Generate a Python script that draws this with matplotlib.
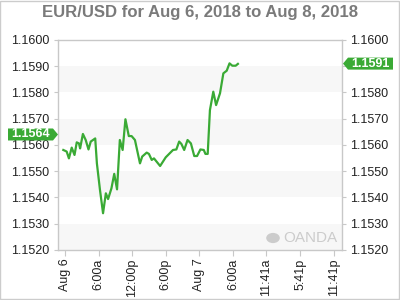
import matplotlib
matplotlib.use("Agg")
import matplotlib.pyplot as plt
from matplotlib.patches import Rectangle, Polygon

# ---- data ----
hours = [-0.3, 0.3, 0.7, 1.2, 1.7, 2.1, 2.5, 2.7, 3.2, 3.7, 4.2, 4.6, 5.4, 5.7,
         6.25, 6.8, 7.3, 7.7, 8.3, 8.8, 9.3, 9.8, 10.3, 10.8, 11.4, 11.9, 12.5,
         13.4, 13.8, 14.6, 15.0, 15.5, 15.9, 17.0, 18.0, 19.3, 19.9, 20.4, 20.8,
         21.3, 21.9, 22.5, 23.1, 23.6, 24.2, 24.8, 25.1, 25.5, 25.9, 26.5, 27.0,
         27.7, 28.3, 28.9, 29.4, 29.9, 30.5, 30.9]
prices = [1.15581, 1.15575, 1.15549, 1.15590, 1.15562, 1.15610, 1.15606, 1.15587,
          1.15642, 1.15619, 1.15583, 1.15613, 1.15625, 1.15530, 1.15429, 1.15340,
          1.15416, 1.15394, 1.15435, 1.15490, 1.15431, 1.15619, 1.15581, 1.15698,
          1.15634, 1.15634, 1.15619, 1.15530, 1.15556, 1.15571, 1.15566, 1.15543,
          1.15549, 1.15520, 1.15553, 1.15581, 1.15583, 1.15613, 1.15604, 1.15581,
          1.15619, 1.15606, 1.15558, 1.15558, 1.15583, 1.15581, 1.15566, 1.15566,
          1.15733, 1.15803, 1.15752, 1.15797, 1.15873, 1.15883, 1.15911, 1.15902,
          1.15902, 1.15909]
tick_hours = [0, 6, 12, 18, 24, 30, 36, 42, 48]
tick_labels = ["Aug 6", "6:00a", "12:00p", "6:00p", "Aug 7", "6:00a",
               "11:41a", "5:41p", "11:41p"]
y_ticks = [1.1520, 1.1530, 1.1540, 1.1550, 1.1560, 1.1570, 1.1580, 1.1590, 1.1600]
bands = [(1.1520, 1.1530), (1.1540, 1.1550), (1.1560, 1.1570), (1.1580, 1.1590)]
left_label = 1.1564
right_label = 1.1591
title = "EUR/USD for Aug 6, 2018 to Aug 8, 2018"

GREEN = "#3aaa35"
plt.rcParams['font.family'] = ['Liberation Sans', 'DejaVu Sans']

fig = plt.figure(figsize=(4, 3), dpi=100)
ax = fig.add_axes([0.145, 0.1667, 0.71, 0.70])
xmin, xmax = -1.25, 49.5
ymin, ymax = 1.1520, 1.1600
ax.set_xlim(xmin, xmax)
ax.set_ylim(ymin, ymax)

for lo, hi in bands:
    ax.axhspan(lo, hi, color="#f7f7f7", lw=0, zorder=0)

ax.plot(hours, prices, color=GREEN, lw=1.6, zorder=3)

for s in ax.spines.values():
    s.set_color("#c8c8c8")
    s.set_linewidth(1)

ax.set_yticks(y_ticks)
ax.set_yticklabels([f"{v:.4f}" for v in y_ticks])
ax.tick_params(axis='y', which='both', left=True, right=True, labelleft=True,
               labelright=True, length=3, color="#c8c8c8", labelsize=9,
               labelcolor="#222222", pad=3)
# the right-hand 1.1590 label sits under the last-price tag
for lab, v in zip(ax.yaxis.get_ticklabels(which='major'), y_ticks):
    pass
ax.set_xticks(tick_hours)
ax.set_xticklabels(tick_labels, rotation=90)
ax.tick_params(axis='x', length=4, color="#c8c8c8", labelsize=9,
               labelcolor="#222222", pad=2)
fig.canvas.draw()
for t in ax.yaxis.get_major_ticks():
    if abs(t.get_loc() - 1.1590) < 1e-7:
        t.label2.set_visible(False)

# title
fig.text(0.5, 0.96, title, ha='center', va='center', fontsize=12.1,
         fontweight='bold', color="#7a7a7a")

def to_fig(xd, yd):
    disp = ax.transData.transform((xd, yd))
    return fig.transFigure.inverted().transform(disp)

# left label
_, fyl = to_fig(xmin, left_label)
h = 12 / 300
x0, x1 = 8 / 400, 53 / 400
tip = 58 / 400
fig.patches.append(Polygon([[x0, fyl - h / 2], [x1, fyl - h / 2], [tip, fyl],
                            [x1, fyl + h / 2], [x0, fyl + h / 2]],
                           closed=True, transform=fig.transFigure,
                           facecolor=GREEN, edgecolor='none'))
fig.text((x0 + x1) / 2, fyl, f"{left_label:.4f}", ha='center', va='center',
         fontsize=9, fontweight='bold', color='white')

# right label
_, fyr = to_fig(xmax, right_label)
rx0, rx1 = 348 / 400, 393 / 400
rtip = 343 / 400
fig.patches.append(Polygon([[rtip, fyr], [rx0, fyr - h / 2], [rx1, fyr - h / 2],
                            [rx1, fyr + h / 2], [rx0, fyr + h / 2]],
                           closed=True, transform=fig.transFigure,
                           facecolor=GREEN, edgecolor='none', zorder=5))
fig.text((rx0 + rx1) / 2, fyr, f"{right_label:.4f}", ha='center', va='center',
         fontsize=9, fontweight='bold', color='white', zorder=6)

# watermark
fig.text(337 / 400, 1 - 238 / 300, "OANDA", ha='right', va='center',
         fontsize=11, color="#cccccc")
fig.patches.append(matplotlib.patches.Circle((273 / 400, 1 - 238 / 300), 0.017,
                   transform=fig.transFigure, facecolor="#cccccc",
                   edgecolor='none'))

# figure border
fig.patches.append(Rectangle((0.001, 0.002), 0.997, 0.996, transform=fig.transFigure,
                             fill=False, edgecolor="#cccccc", lw=1))

fig.savefig("out.png", dpi=100)
